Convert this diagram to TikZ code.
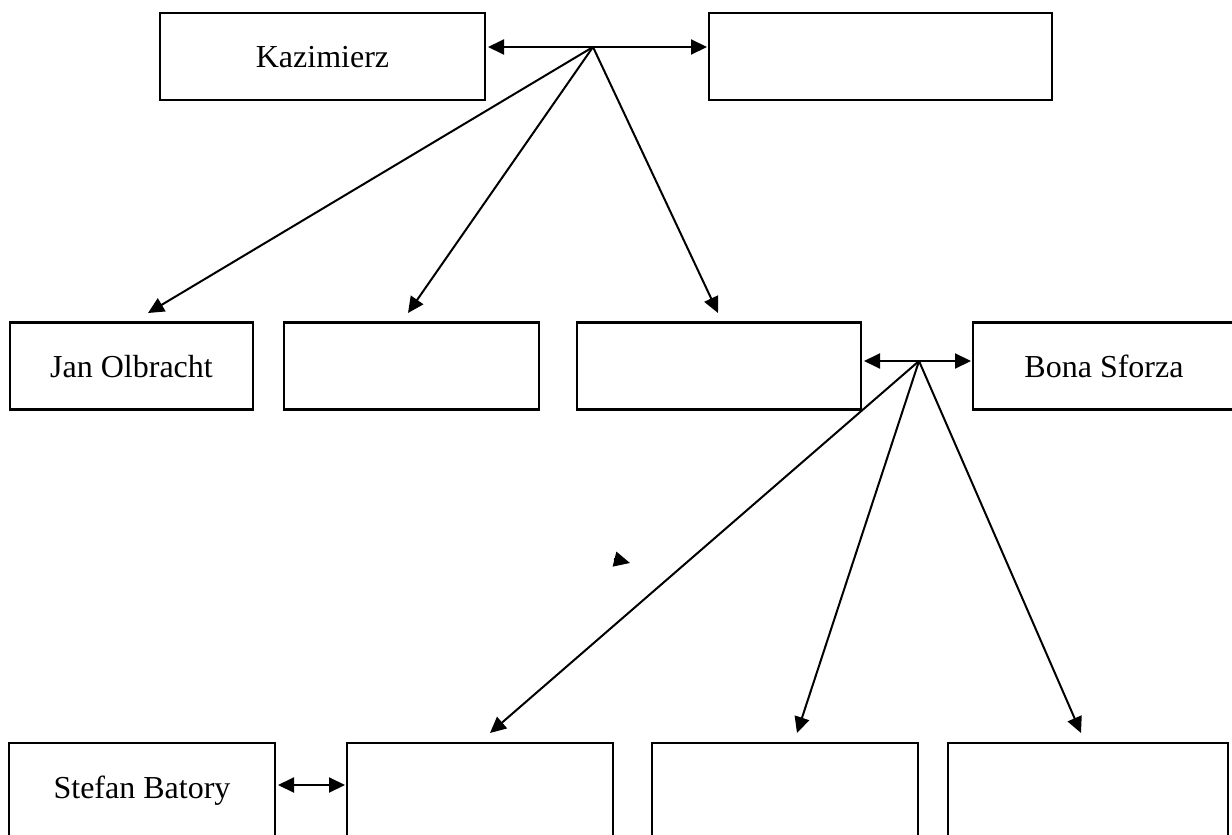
\documentclass[tikz,border=0pt]{standalone}
\usepackage{fontspec}
\setmainfont{Liberation Serif}
\usetikzlibrary{arrows.meta}
\begin{document}
\begin{tikzpicture}[x=0.5pt,y=-0.5pt,
  box/.style={draw,line width=1.1pt,inner sep=0pt,outer sep=0pt,minimum height=43.5pt},
  lbl/.style={anchor=base,inner sep=0pt,font=\fontsize{16}{19}\selectfont},
  conn/.style={line width=1pt,-{Triangle[length=8pt,width=7.5pt]}},
  dbl/.style={line width=1pt,{Triangle[length=8pt,width=7.5pt]}-{Triangle[length=8pt,width=7.5pt]},shorten <=1.5pt,shorten >=1pt}]
\useasboundingbox (0,0) rectangle (1232,835);
% row 1
\node[box,minimum width=162.5pt] (kaz) at (322.5,56.5) {};
\node[box,minimum width=171.5pt] (r1) at (880.5,56.5) {};
\node[lbl] (kazt) at (322.5,68) {Kazimierz};
% row 2
\node[box,minimum width=121.5pt] (jan) at (131.5,366) {};
\node[box,minimum width=127.5pt] (b2) at (411.5,366) {};
\node[box,minimum width=142pt] (b3) at (719,366) {};
\node[box,minimum width=131pt] (bona) at (1104,366) {};
\node[lbl] (jant) at (131.5,377) {Jan Olbracht};
\node[lbl] (bonat) at (1104,377) {Bona Sforza};
% row 3
\node[box,minimum width=133pt,minimum height=53.5pt] (sb) at (142,796.5) {};
\node[box,minimum width=133pt,minimum height=53.5pt] (c1) at (480,796.5) {};
\node[box,minimum width=133pt,minimum height=53.5pt] (c2) at (785,796.5) {};
\node[box,minimum width=140pt,minimum height=53.5pt] (c3) at (1088,796.5) {};
\node[lbl] (sbt) at (142,798) {Stefan Batory};
% junctions and tips
\coordinate (j1) at (593,47);
\coordinate (j2) at (919,361);
\coordinate (t1) at (148,313);
\coordinate (t2) at (408,313);
\coordinate (t3) at (718,313);
\coordinate (u1) at (490,733);
\coordinate (u2) at (797,733);
\coordinate (u3) at (1081,733);
\coordinate (e3) at (0,785);
\coordinate (s1) at (614,559);
\coordinate (s2) at (630,563);
% connectors
\draw[dbl] (kaz.east |- j1) -- (r1.west |- j1);
\draw[conn] (j1) -- (t1);
\draw[conn] (j1) -- (t2);
\draw[conn] (j1) -- (t3);
\draw[dbl] (b3.east |- j2) -- (bona.west |- j2);
\draw[conn] (j2) -- (u1);
\draw[conn] (j2) -- (u2);
\draw[conn] (j2) -- (u3);
\draw[dbl] (sb.east |- e3) -- (c1.west |- e3);
\draw[conn] (s1) -- (s2);
\end{tikzpicture}
\end{document}
